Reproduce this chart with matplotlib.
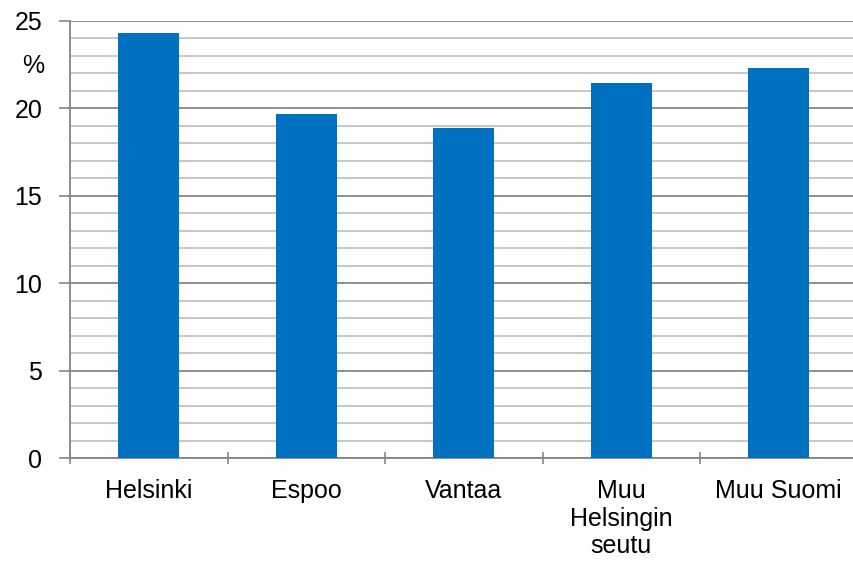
import matplotlib
matplotlib.use("Agg")
import matplotlib.pyplot as plt
from matplotlib.ticker import MultipleLocator
import numpy as np

plt.rcParams['font.family'] = ['Liberation Sans', 'DejaVu Sans']

categories = ['Helsinki', 'Espoo', 'Vantaa', 'Muu\nHelsingin\nseutu', 'Muu Suomi']
values = [24.3, 19.7, 18.9, 21.45, 22.3]

bar_color = '#0070C0'
major_grid = '#868686'
minor_grid = '#BDBDBD'

fig = plt.figure(figsize=(8.54, 5.61), dpi=100)
ax = fig.add_axes([70 / 854, 1 - 458 / 561, 787.5 / 854, 437 / 561])

x = np.arange(len(categories))
ax.bar(x, values, width=0.39, color=bar_color, zorder=3)

ax.set_xlim(-0.5, len(categories) - 0.5)
ax.set_ylim(0, 25)

ax.yaxis.set_major_locator(MultipleLocator(5))
ax.yaxis.set_minor_locator(MultipleLocator(1))
ax.grid(axis='y', which='minor', color=minor_grid, linewidth=1.2, zorder=0)
ax.grid(axis='y', which='major', color=major_grid, linewidth=1.3, zorder=1)
ax.tick_params(axis='y', which='minor', length=0)
ax.tick_params(axis='y', which='major', length=8, width=1.2, color=major_grid,
               labelsize=18, pad=12)

ax.set_xticks(np.arange(len(categories) + 1) - 0.5, minor=False)
ax.set_xticklabels([])
ax.set_xticks(x, minor=True)
ax.set_xticklabels(categories, minor=True, fontsize=18, linespacing=1.2)
ax.tick_params(axis='x', which='major', length=8, width=1.2, color=major_grid, direction='inout')
ax.tick_params(axis='x', which='minor', length=0, pad=15)

for s in ['top', 'right']:
    ax.spines[s].set_visible(False)
for s in ['left', 'bottom']:
    ax.spines[s].set_color(major_grid)
    ax.spines[s].set_linewidth(1.3)

ax.text(-0.047, 22.4, '%', transform=ax.get_yaxis_transform(), fontsize=18,
        ha='center', va='center')

fig.savefig('out.png', dpi=100)
